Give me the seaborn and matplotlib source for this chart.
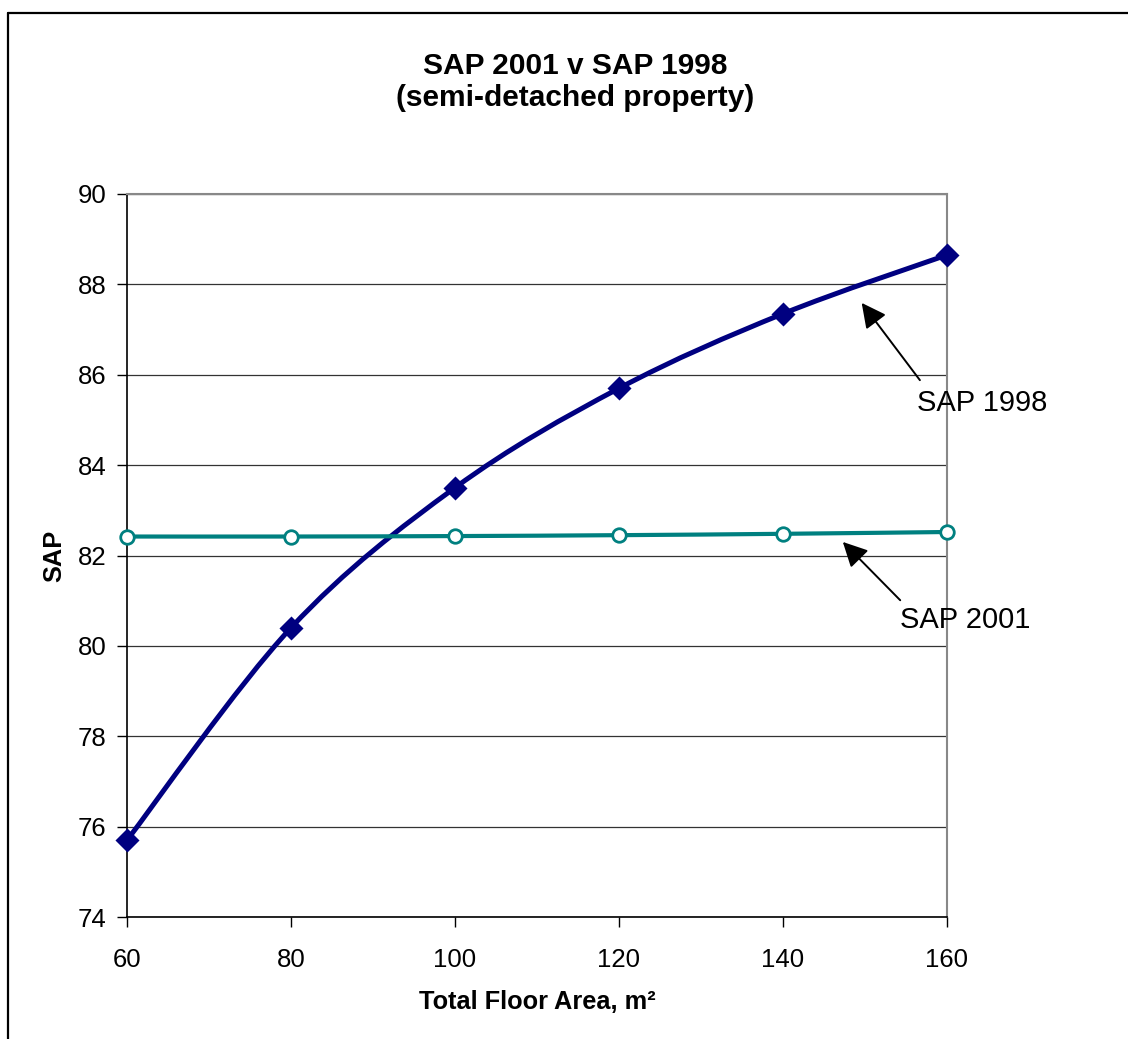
import numpy as np
import pandas as pd
import matplotlib
matplotlib.use('Agg')
import matplotlib.pyplot as plt
from matplotlib.path import Path
from matplotlib.patches import PathPatch
from matplotlib.lines import Line2D
import seaborn as sns

# data
floor_area = [60, 80, 100, 120, 140, 160]
sap_1998 = [75.7, 80.4, 83.5, 85.7, 87.35, 88.65]
sap_2001 = [82.42, 82.42, 82.43, 82.45, 82.48, 82.52]
y_ticks = [74, 76, 78, 80, 82, 84, 86, 88, 90]
x_ticks = [60, 80, 100, 120, 140, 160]

sns.set_style('white')
plt.rcParams['font.family'] = ['Liberation Sans', 'DejaVu Sans']
plt.rcParams['text.color'] = 'black'
plt.rcParams['axes.labelcolor'] = 'black'
plt.rcParams['xtick.color'] = 'black'
plt.rcParams['ytick.color'] = 'black'

df = pd.DataFrame({'area': floor_area, 'SAP 1998': sap_1998, 'SAP 2001': sap_2001})


def smooth_path(x, y):
    # excel style smoothed line: bezier segments through every point
    pts = np.column_stack([x, y]).astype(float)
    n = len(pts)
    verts = [pts[0]]
    codes = [Path.MOVETO]
    for i in range(n - 1):
        p0 = pts[max(i - 1, 0)]
        p1 = pts[i]
        p2 = pts[i + 1]
        p3 = pts[min(i + 2, n - 1)]
        c1 = p1 + (p2 - p0) / 6.0
        c2 = p2 - (p3 - p1) / 6.0
        verts += [c1, c2, p2]
        codes += [Path.CURVE4] * 3
    return Path(verts, codes)


fig = plt.figure(figsize=(11.28, 10.39), dpi=100)
ax = fig.add_axes([0.1126, 0.1174, 0.7269, 0.6959])

ax.add_patch(PathPatch(smooth_path(df['area'], df['SAP 1998']), fill=False,
                       edgecolor='#000080', lw=3.6, zorder=3, capstyle='round'))
ax.add_patch(PathPatch(smooth_path(df['area'], df['SAP 2001']), fill=False,
                       edgecolor='#008080', lw=3.0, zorder=3, capstyle='round'))

sns.scatterplot(data=df, x='area', y='SAP 1998', marker='D', s=150, color='#000080',
                edgecolor='#000080', linewidth=0, zorder=4, ax=ax, clip_on=False)
sns.scatterplot(data=df, x='area', y='SAP 2001', marker='o', s=95, color='white',
                edgecolor='#008080', linewidth=2, zorder=4, ax=ax, clip_on=False)

ax.set_xlim(60, 160)
ax.set_ylim(74, 90)
ax.set_xticks(x_ticks)
ax.set_yticks(y_ticks)
ax.tick_params(axis='both', direction='out', length=7, width=1, color='black',
               labelcolor='black', labelsize=18.5, left=True, bottom=True)
ax.tick_params(axis='x', pad=15)
ax.tick_params(axis='y', pad=8)
ax.yaxis.grid(True, color='#333333', lw=0.9)
ax.xaxis.grid(False)
for side in ['top', 'right']:
    ax.spines[side].set_color('#888888')
    ax.spines[side].set_linewidth(1.5)
for side in ['left', 'bottom']:
    ax.spines[side].set_color('black')
    ax.spines[side].set_linewidth(1.2)

ax.set_xlabel('Total Floor Area, m²', fontsize=18.3, fontweight='bold', labelpad=13)
ax.set_ylabel('SAP', fontsize=18.3, fontweight='bold', labelpad=8)

fig.text(0.51, 0.936, 'SAP 2001 v SAP 1998', ha='center', va='center',
         fontsize=21.5, fontweight='bold')
fig.text(0.51, 0.906, '(semi-detached property)', ha='center', va='center',
         fontsize=21.5, fontweight='bold')

arrow = dict(arrowstyle='-|>,head_length=0.75,head_width=0.38', mutation_scale=20,
             color='black', lw=1.4, shrinkA=0, shrinkB=0)
ax.annotate('', xy=(149.6, 87.59), xytext=(156.7, 85.88), arrowprops=arrow,
            annotation_clip=False, zorder=5)
ax.text(156.3, 85.37, 'SAP 1998', fontsize=21, va='center', ha='left', clip_on=False)
ax.annotate('', xy=(147.3, 82.30), xytext=(154.3, 81.01), arrowprops=arrow,
            annotation_clip=False, zorder=5)
ax.text(154.3, 80.57, 'SAP 2001', fontsize=21, va='center', ha='left', clip_on=False)

# chart frame (top and left edges visible)
fig.add_artist(Line2D([0.0071, 1.0], [0.9875, 0.9875], color='black', lw=1.6,
                      transform=fig.transFigure))
fig.add_artist(Line2D([0.0071, 0.0071], [0.0, 0.9875], color='black', lw=1.6,
                      transform=fig.transFigure))

fig.savefig('out.png', dpi=100)
